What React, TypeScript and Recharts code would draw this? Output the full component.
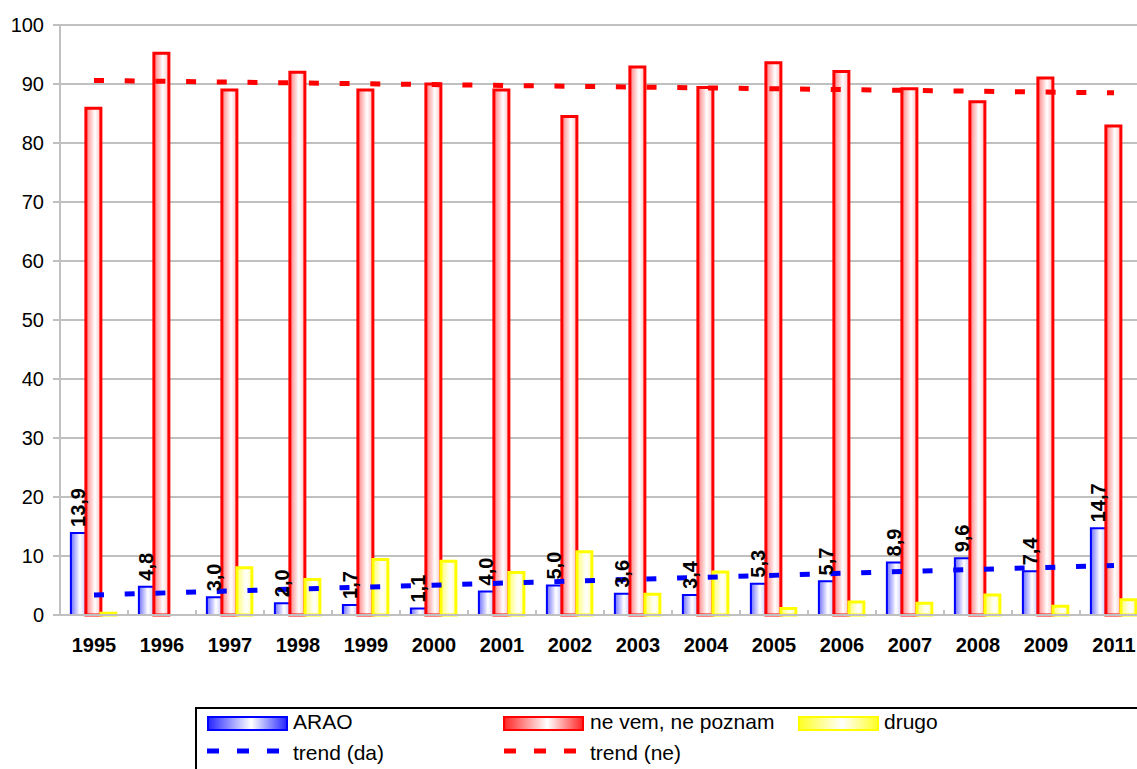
import React from 'react';
import { ComposedChart, Bar, Line, XAxis, YAxis, CartesianGrid, LabelList, Legend } from 'recharts';

const years = ['1995', '1996', '1997', '1998', '1999', '2000', '2001', '2002', '2003', '2004', '2005', '2006', '2007', '2008', '2009', '2011'];
const arao = [13.9, 4.8, 3.0, 2.0, 1.7, 1.1, 4.0, 5.0, 3.6, 3.4, 5.3, 5.7, 8.9, 9.6, 7.4, 14.7];
const neVem = [85.9, 95.2, 89.0, 92.0, 89.0, 90.0, 89.0, 84.5, 92.9, 89.4, 93.6, 92.1, 89.2, 87.0, 91.0, 82.9];
const drugo = [0.3, 0, 8.0, 6.0, 9.4, 9.1, 7.2, 10.7, 3.5, 7.3, 1.1, 2.2, 2.0, 3.4, 1.5, 2.6];
// trend lines: only end points are given, the library draws the straight line between them
const trendDa: (number | null)[] = [3.4, null, null, null, null, null, null, null, null, null, null, null, null, null, null, 8.4];
const trendNe: (number | null)[] = [90.6, null, null, null, null, null, null, null, null, null, null, null, null, null, null, 88.5];
const yTicks = [0, 10, 20, 30, 40, 50, 60, 70, 80, 90, 100];

const data = years.map((y, i) => ({
  year: y,
  arao: arao[i],
  neVem: neVem[i],
  drugo: drugo[i],
  trendDa: trendDa[i],
  trendNe: trendNe[i],
}));

const FONT = "'Liberation Sans', Arial, sans-serif";
const GRID = '#c0c0c0';
const X_TICK_MARGIN = 23;

const BarLabel = (props: any) => {
  const { x, y, width, value } = props;
  const cx = Number(x) + Number(width) / 2;
  const ty = Number(y) - 6;
  return (
    <text
      x={cx}
      y={ty}
      transform={`rotate(-90, ${cx}, ${ty})`}
      textAnchor="start"
      dominantBaseline="central"
      fontFamily={FONT}
      fontWeight="bold"
      fontSize={20}
      fill="#000"
    >
      {Number(value).toFixed(1).replace('.', ',')}
    </text>
  );
};

const XTick = (props: any) => {
  const { x, y, payload, width, visibleTicksCount } = props;
  const band = Number(width) / Number(visibleTicksCount || 16);
  const axisY = Number(y) - X_TICK_MARGIN;
  const bx = Number(x) - band / 2;
  return (
    <g>
      <line x1={bx} x2={bx} y1={axisY} y2={axisY - 5} stroke={GRID} strokeWidth={2} />
      <text
        x={x}
        y={axisY + X_TICK_MARGIN}
        dy="0.71em"
        textAnchor="middle"
        fontFamily={FONT}
        fontWeight="bold"
        fontSize={20}
        fill="#000"
      >
        {payload.value}
      </text>
    </g>
  );
};

const swatch = (left: number, border: string, bg: string): React.CSSProperties => ({
  position: 'absolute',
  left,
  top: 7,
  width: 81,
  height: 15,
  boxSizing: 'border-box',
  border: `2px solid ${border}`,
  background: bg,
});

const textStyle = (left: number, top: number): React.CSSProperties => ({
  position: 'absolute',
  left,
  top,
  fontFamily: FONT,
  fontSize: 21,
  lineHeight: '24px',
  color: '#000',
  whiteSpace: 'nowrap',
});

const LegendBox = () => (
  <div
    style={{
      position: 'relative',
      width: 1000,
      height: 100,
      boxSizing: 'border-box',
      border: '2px solid #000',
      background: '#fff',
    }}
  >
    <div style={swatch(10, '#0000ff', 'linear-gradient(90deg, #2a2aff 0%, #ffffff 55%, #2a2aff 100%)')} />
    <div style={textStyle(96, 1)}>ARAO</div>
    <div style={swatch(306, '#ff0000', 'linear-gradient(90deg, #ff2a2a 0%, #ffffff 55%, #ff2a2a 100%)')} />
    <div style={textStyle(393, 1)}>ne vem, ne poznam</div>
    <div style={swatch(601, '#ffff00', 'linear-gradient(90deg, #ffff2a 0%, #ffffff 55%, #ffff2a 100%)')} />
    <div style={textStyle(687, 1)}>drugo</div>
    <svg style={{ position: 'absolute', left: 0, top: 0 }} width={400} height={80}>
      <line x1={10} x2={84} y1={42} y2={42} stroke="#0000ff" strokeWidth={5} strokeDasharray="12 18" />
      <line x1={307} x2={381} y1={42} y2={42} stroke="#ff0000" strokeWidth={5} strokeDasharray="12 18" />
    </svg>
    <div style={textStyle(96, 32)}>trend (da)</div>
    <div style={textStyle(393, 32)}>trend (ne)</div>
  </div>
);

export default function App() {
  return (
    <div style={{ position: 'fixed', left: 0, top: 0, width: 1137, height: 769, overflow: 'hidden', background: '#fff' }}>
      <ComposedChart
        width={1170}
        height={830}
        data={data}
        margin={{ top: 25, right: 22, bottom: 175, left: 1 }}
        barCategoryGap="16%"
        barGap={0}
      >
        <defs>
          <linearGradient id="gBlue" x1="0" y1="0" x2="1" y2="0">
            <stop offset="0%" stopColor="#7070ff" />
            <stop offset="60%" stopColor="#ffffff" />
            <stop offset="100%" stopColor="#c8c8ff" />
          </linearGradient>
          <linearGradient id="gRed" x1="0" y1="0" x2="1" y2="0">
            <stop offset="0%" stopColor="#ff8080" />
            <stop offset="60%" stopColor="#ffffff" />
            <stop offset="100%" stopColor="#ffc0c0" />
          </linearGradient>
          <linearGradient id="gYellow" x1="0" y1="0" x2="1" y2="0">
            <stop offset="0%" stopColor="#ffff70" />
            <stop offset="60%" stopColor="#ffffff" />
            <stop offset="100%" stopColor="#ffffc0" />
          </linearGradient>
        </defs>
        <CartesianGrid vertical={false} stroke={GRID} strokeWidth={2} />
        <XAxis
          dataKey="year"
          height={40}
          interval={0}
          tickSize={0}
          tickMargin={X_TICK_MARGIN}
          tick={<XTick />}
          tickLine={false}
          axisLine={{ stroke: GRID, strokeWidth: 2 }}
        />
        <YAxis
          width={59}
          domain={[0, 100]}
          ticks={yTicks}
          interval={0}
          tickSize={7}
          tickMargin={9}
          tick={{ fontFamily: FONT, fontSize: 20, fill: '#000' }}
          tickLine={{ stroke: GRID, strokeWidth: 2 }}
          axisLine={{ stroke: GRID, strokeWidth: 2 }}
        />
        <Bar dataKey="arao" name="ARAO" fill="url(#gBlue)" stroke="#0000ff" strokeWidth={2} isAnimationActive={false}>
          <LabelList dataKey="arao" content={<BarLabel />} />
        </Bar>
        <Bar dataKey="neVem" name="ne vem, ne poznam" fill="url(#gRed)" stroke="#ff0000" strokeWidth={3} isAnimationActive={false} />
        <Bar dataKey="drugo" name="drugo" fill="url(#gYellow)" stroke="#ffff00" strokeWidth={3} isAnimationActive={false} />
        <Line
          dataKey="trendDa"
          name="trend (da)"
          type="linear"
          stroke="#0000ff"
          strokeWidth={5}
          strokeDasharray="10 20.7"
          dot={false}
          activeDot={false}
          connectNulls
          isAnimationActive={false}
        />
        <Line
          dataKey="trendNe"
          name="trend (ne)"
          type="linear"
          stroke="#ff0000"
          strokeWidth={5}
          strokeDasharray="10 20.7"
          dot={false}
          activeDot={false}
          connectNulls
          isAnimationActive={false}
        />
        <Legend
          layout="horizontal"
          verticalAlign="middle"
          align="center"
          content={<LegendBox />}
          wrapperStyle={{ position: 'absolute', left: 195, top: 707, width: 1000, height: 100, margin: 0, padding: 0 }}
        />
      </ComposedChart>
    </div>
  );
}
